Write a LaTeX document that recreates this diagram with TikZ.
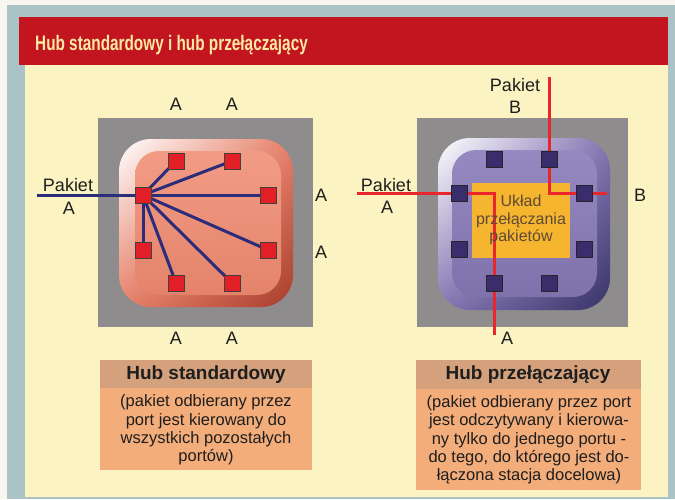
\documentclass[tikz,border=0pt]{standalone}
\usepackage{fontspec}
\setmainfont{Liberation Sans}
\usetikzlibrary{backgrounds,shadings}

\definecolor{paper}{HTML}{F8F6EE}
\definecolor{framecol}{HTML}{A9C3C6}
\definecolor{cream}{HTML}{FCF3C2}
\definecolor{titlered}{HTML}{C3151F}
\definecolor{titletext}{HTML}{FAE9A2}
\definecolor{boxgray}{HTML}{8E8C8C}
\definecolor{salmonface}{HTML}{F08A70}
\definecolor{salmonmid}{HTML}{E88068}
\definecolor{salmondark}{HTML}{A83C2C}
\definecolor{portred}{HTML}{E21E26}
\definecolor{wire}{HTML}{2B2C7A}
\definecolor{lilacface}{HTML}{8A7CBB}
\definecolor{lilacmid}{HTML}{8476B4}
\definecolor{lilacdark}{HTML}{363266}
\definecolor{portpurple}{HTML}{3A2D6B}
\definecolor{switchbox}{HTML}{F6B52E}
\definecolor{switchtext}{HTML}{5E4A38}
\definecolor{redwire}{HTML}{E8262C}
\definecolor{captop}{HTML}{D4A17C}
\definecolor{capbody}{HTML}{F3AD7B}
\definecolor{ink}{HTML}{1E1E1E}

\pgfdeclarelayer{wires}
\pgfsetlayers{background,wires,main}

\tikzset{
  redport/.style={draw=black!75, fill=portred, line width=0.8pt,
    minimum size=16pt, inner sep=0pt},
  purpleport/.style={draw=black!85, fill=portpurple, line width=0.8pt,
    minimum size=16pt, inner sep=0pt},
  bluewire/.style={draw=wire, line width=3pt},
  switchwire/.style={draw=redwire, line width=3pt},
  lbl/.style={font=\fontsize{18}{20}\selectfont, text=ink, inner sep=0pt},
  capbodytext/.style={align=center, text=ink, inner sep=0pt,
    font=\fontsize{16.5}{18.3}\selectfont},
  capheadtext/.style={text=ink, inner sep=0pt,
    font=\bfseries\fontsize{19}{20}\selectfont},
}

\begin{document}
\begin{tikzpicture}[x=1pt,y=-1pt]
  \useasboundingbox (0,0) rectangle (675,499);
  \begin{scope}[on background layer]
    % page, frame and panel
    \fill[paper] (0,0) rectangle (675,499);
    \fill[framecol] (7,5) rectangle (675,499);
    \fill[cream] (25,65) rectangle (668,497);
    \fill[titlered] (19,17) rectangle (668,65);
    % standard hub body
    \fill[boxgray] (98,118) rectangle (313,327);
    \shade[rounded corners=32pt, upper left=white, upper right=salmonmid,
      lower left=salmonmid, lower right=salmondark] (119,139) rectangle (293,307);
    \shade[rounded corners=24pt, top color=salmonface!85!white,
      bottom color=salmonface!95!black] (135,151) rectangle (281,295);
    % switching hub body
    \fill[boxgray] (417,118) rectangle (628,327);
    \shade[rounded corners=32pt, upper left=white, upper right=lilacmid,
      lower left=lilacmid, lower right=lilacdark] (438,138) rectangle (610,310);
    \shade[rounded corners=24pt, top color=lilacface!90!white,
      bottom color=lilacface!92!black] (452,150) rectangle (597,297);
    \fill[switchbox] (472,183) rectangle (570,258);
  \end{scope}

  \node[anchor=base west, inner sep=0pt, text=titletext] (title) at (35,50)
    {\scalebox{0.73}[1]{\bfseries\fontsize{21}{22}\selectfont Hub standardowy i hub przełączający}};

  % ---------- standard hub ----------
  \node[redport] (hc) at (143,195) {};
  \node[redport] (ht1) at (176,161) {};
  \node[redport] (ht2) at (232,161) {};
  \node[redport] (hr1) at (268,195) {};
  \node[redport] (hr2) at (268,250) {};
  \node[redport] (hb1) at (176,283) {};
  \node[redport] (hb2) at (232,283) {};
  \node[redport] (hl2) at (143,250) {};
  \coordinate (hin) at (37,195);

  \begin{pgfonlayer}{wires}
    \foreach \p in {ht1,ht2,hr1,hr2,hb1,hb2,hl2}
      \draw[bluewire] (hc.center) -- (\p.center);
    \draw[bluewire] (hin) -- (hc.center);
  \end{pgfonlayer}

  \node[lbl] (hpak) at (68,185) {Pakiet};
  \node[lbl] (hpa) at (69,208) {A};
  \node[lbl] (hat1) at (176,104) {A};
  \node[lbl] (hat2) at (232,104) {A};
  \node[lbl] (har1) at (321,195) {A};
  \node[lbl] (har2) at (321,252) {A};
  \node[lbl] (hab1) at (176,338) {A};
  \node[lbl] (hab2) at (232,338) {A};

  % ---------- switching hub ----------
  \node[align=center, text=switchtext, inner sep=0pt,
    font=\fontsize{16}{17.5}\selectfont] (swtext) at (521,220)
    {Układ\\przełączania\\pakietów};

  \node[purpleport] (st1) at (494,159) {};
  \node[purpleport] (st2) at (549,159) {};
  \node[purpleport] (sl1) at (459,193) {};
  \node[purpleport] (sl2) at (459,249) {};
  \node[purpleport] (sr1) at (584,193) {};
  \node[purpleport] (sr2) at (584,249) {};
  \node[purpleport] (sb1) at (494,283) {};
  \node[purpleport] (sb2) at (549,283) {};

  \coordinate (sinA) at (357,193);
  \coordinate (soutA) at (494,335);
  \coordinate (sinB) at (549,77);
  \coordinate (soutB) at (607,193);
  \begin{pgfonlayer}{wires}
    \draw[switchwire] (sinA) -- (sl1.center) -- (sl1.center -| sb1.center)
      -- (sb1.center) -- (soutA);
    \draw[switchwire] (sinB) -- (st2.center) -- (st2.center |- sr1.center)
      -- (sr1.center) -- (soutB);
  \end{pgfonlayer}

  \node[lbl] (spakB) at (515,85) {Pakiet};
  \node[lbl] (sB) at (515,107) {B};
  \node[lbl] (spakA) at (386,185) {Pakiet};
  \node[lbl] (sA) at (387,207) {A};
  \node[lbl] (sBout) at (640,195) {B};
  \node[lbl] (sAout) at (507,338) {A};

  % ---------- captions ----------
  \fill[captop] (100,360) rectangle (312,388);
  \fill[capbody] (100,388) rectangle (312,470);
  \node[capheadtext] (cap1h) at (206,375) {Hub standardowy};
  \node[capbodytext] (cap1b) at (206,430)
    {(pakiet odbierany przez\\port jest kierowany do\\wszystkich pozostałych\\portów)};

  \fill[captop] (416,360) rectangle (641,389);
  \fill[capbody] (416,389) rectangle (641,490);
  \node[capheadtext] (cap2h) at (528,375) {Hub przełączający};
  \node[capbodytext] (cap2b) at (529,440)
    {(pakiet odbierany przez port\\jest odczytywany i kierowa-\\ny tylko do jednego portu -\\do tego, do którego jest do-\\łączona stacja docelowa)};
\end{tikzpicture}
\end{document}
